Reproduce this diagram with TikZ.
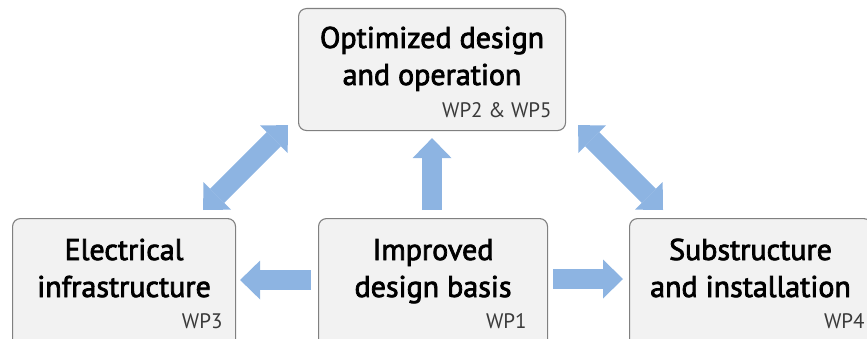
\documentclass[tikz,border=0pt]{standalone}
\usepackage{fontspec}
\setmainfont{PT Sans}
\newfontfamily\titlefont[FakeBold=2.5]{PT Sans}
\usetikzlibrary{arrows.meta,calc}
\definecolor{boxbg}{HTML}{F2F2F2}
\definecolor{boxrule}{HTML}{808080}
\definecolor{flowblue}{HTML}{8DB4E2}
\definecolor{wpgray}{HTML}{3A3A3A}

\begin{document}
\begin{tikzpicture}[x=1pt,y=1pt,
  wpbox/.style={draw=boxrule,fill=boxbg,rounded corners=8pt,line width=1.1pt,
        inner sep=0pt,anchor=north west,minimum height=130pt},
  boxtitle/.style={align=center,anchor=base,font=\titlefont\fontsize{30}{37}\selectfont},
  wptag/.style={anchor=base east,text=wpgray,font=\fontsize{21}{24}\selectfont},
  flow/.style={draw=flowblue,line width=20pt,-{Triangle[length=20pt,width=39pt,line width=0pt]}},
  flowboth/.style={draw=flowblue,line width=20pt,
        {Triangle[length=20pt,width=39pt,line width=0pt]}-{Triangle[length=20pt,width=39pt,line width=0pt]}}]
  \useasboundingbox (0,0) rectangle (867,338);
  \clip (0,0) rectangle (867,338);

  \node[wpbox,minimum width=267pt,minimum height=122pt] (optim) at (298,330) {};
  \node[wpbox,minimum width=223pt] (elec) at (12,120) {};
  \node[wpbox,minimum width=229pt] (basis) at (318,120) {};
  \node[wpbox,minimum width=242pt] (subst) at (629,120) {};

  \node[boxtitle] (optimT) at ($(optim.north)+(0,-77)$) {Optimized design\\and operation};
  \node[boxtitle] (elecT) at ($(elec.north)+(0,-79)$) {Electrical\\infrastructure};
  \node[boxtitle] (basisT) at ($(basis.north)+(0,-79)$) {Improved\\design basis};
  \node[boxtitle] (substT) at ($(subst.north)+(0,-79)$) {Substructure\\and installation};

  \node[wptag] (optimWP) at ($(optim.north east)+(-11,-109)$) {WP2 \& WP5};
  \node[wptag] (elecWP) at ($(elec.north east)+(-10,-110)$) {WP3};
  \node[wptag] (basisWP) at ($(basis.north east)+(-18,-110)$) {WP1};
  \node[wptag] (substWP) at ($(subst.north east)+(-4,-110)$) {WP4};

  \draw[flow,shorten <=8pt,shorten >=7pt] (optim.south |- basis.north) -- (optim.south);
  \draw[flow,shorten <=7pt,shorten >=4pt] ($(basis.north west)+(0,-62)$) -- ($(elec.north east)+(0,-62)$);
  \draw[flow,shorten <=5pt,shorten >=6pt] ($(basis.north east)+(0,-61)$) -- ($(subst.north west)+(0,-61)$);

  \coordinate (elecTip) at ($(elec.north east)+(-33,8)$);
  \coordinate (optimTipL) at ($(optim.south west)+(-10,6)$);
  \coordinate (optimTipR) at ($(optim.south east)+(12,6)$);
  \coordinate (substTip) at ($(subst.north west)+(34,8)$);
  \draw[flowboth] (elecTip) -- (optimTipL);
  \draw[flowboth] (optimTipR) -- (substTip);
\end{tikzpicture}
\end{document}
